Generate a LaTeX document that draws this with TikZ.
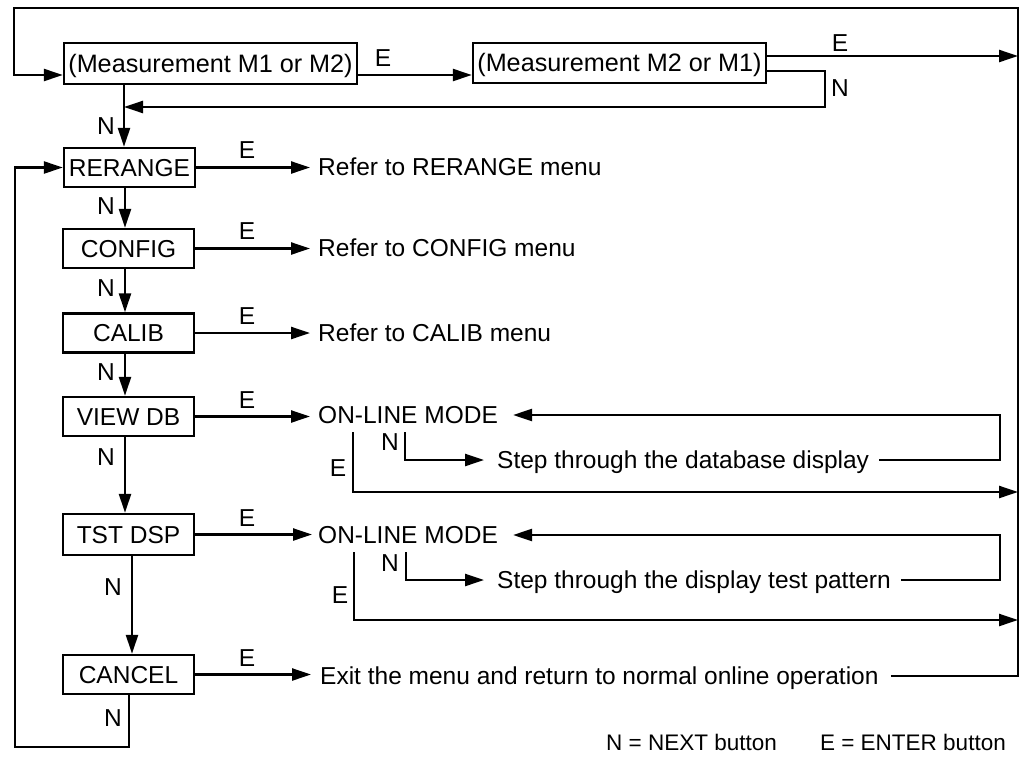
\documentclass[tikz,border=0pt]{standalone}
\usepackage{fontspec}
\setmainfont{Liberation Sans}
\usetikzlibrary{arrows.meta,calc}
\begin{document}
\begin{tikzpicture}[x=1pt,y=-1pt,
  every node/.style={font=\fontsize{24.5}{29}\selectfont, text height=17.5pt, text depth=0pt},
  box/.style={draw, line width=2.4pt, inner sep=0pt},
  lbl/.style={inner sep=0pt, anchor=west},
  lab/.style={inner sep=0pt},
  legend/.style={inner sep=0pt, font=\fontsize{22.5}{27}\selectfont, text height=16pt},
  conn/.style={line width=2.4pt},
  arr/.style={conn, -{Triangle[length=19pt,width=12pt]}}]
\useasboundingbox (0,0) rectangle (1021,756);
% boxes
\node[box, minimum width=293pt, minimum height=41pt, font=\fontsize{25.2}{30}\selectfont] (m1) at (210.5,63.5) {(Measurement M1 or M2)};
\node[box, minimum width=293pt, minimum height=40pt, font=\fontsize{25.2}{30}\selectfont] (m2) at (619.5,63) {(Measurement M2 or M1)};
\node[box, minimum width=131pt, minimum height=39pt] (rer) at (129.5,167.5) {RERANGE};
\node[box, minimum width=131pt, minimum height=39pt] (cfg) at (128.5,248.5) {CONFIG};
\node[box, minimum width=131pt, minimum height=39pt] (cal) at (128.5,333) {CALIB};
\node[box, minimum width=131pt, minimum height=39pt] (vdb) at (128.5,416.5) {VIEW DB};
\node[box, minimum width=131pt, minimum height=41pt] (tst) at (128.5,534.5) {TST DSP};
\node[box, minimum width=131pt, minimum height=39pt] (can) at (128.5,674.5) {CANCEL};
% texts
\node[lbl] (trer) at (318,167) {Refer to RERANGE menu};
\node[lbl] (tcfg) at (318,248) {Refer to CONFIG menu};
\node[lbl] (tcal) at (318,333) {Refer to CALIB menu};
\node[lbl] (on1) at (318,415) {ON-LINE MODE};
\node[lbl] (st1) at (497,460) {Step through the database display};
\node[lbl] (on2) at (318,535) {ON-LINE MODE};
\node[lbl] (st2) at (497,580) {Step through the display test pattern};
\node[lbl] (ex) at (320,676) {Exit the menu and return to normal online operation};
\node[legend, anchor=west] (lgN) at (606,742) {N = NEXT button};
\node[legend, anchor=east] (lgE) at (1006,742) {E = ENTER button};
% labels
\node[lab] (le1) at (383,58) {E};
\node[lab] (le2) at (840,43) {E};
\node[lab] (ln2) at (840,88) {N};
\node[lab] (ln1) at (106,126) {N};
\node[lab] (ler) at (247,150) {E};
\node[lab] (lnr) at (106,206) {N};
\node[lab] (lec) at (247,231) {E};
\node[lab] (lnc) at (106,288) {N};
\node[lab] (lel) at (247,316) {E};
\node[lab] (lnl) at (106,372) {N};
\node[lab] (lev) at (247,400) {E};
\node[lab] (lnv) at (106,457) {N};
\node[lab] (let) at (247,518) {E};
\node[lab] (lnt) at (113,587) {N};
\node[lab] (lea) at (247,658) {E};
\node[lab] (lna) at (113,718) {N};
\node[lab] (lo1n) at (390,442) {N};
\node[lab] (lo1e) at (338,468) {E};
\node[lab] (lo2n) at (390,563) {N};
\node[lab] (lo2e) at (340,595) {E};
% coordinates
\coordinate (cA) at (124,75);
\coordinate (yE2) at (0,56);
\coordinate (yN2) at (0,71);
\coordinate (xN2) at (825,107);
\coordinate (R) at (1018,8);
\coordinate (L) at (14,8);
\coordinate (cB) at (125,0);
\coordinate (cC) at (132,0);
\coordinate (cD) at (129,747);
\coordinate (LL) at (15,747);
\coordinate (xR) at (1000,0);
\coordinate (v1E) at (353,432);
\coordinate (v1N) at (405,432);
\coordinate (y1E) at (0,492);
\coordinate (v2E) at (354,552);
\coordinate (v2N) at (406,552);
\coordinate (y2E) at (0,620);
% top part
\draw[arr] ($(ex.east)+(12,0)$) -- (ex.east -| R) -- (R) -- (L) -- (L |- cA) -- (m1.west |- cA);
\draw[arr] (m1.east |- cA) -- (m2.west |- cA);
\draw[arr] (m2.east |- yE2) -- (R |- yE2);
\draw[arr] (m2.east |- yN2) -- (xN2 |- yN2) -- (xN2) -- (cA |- xN2);
\draw[arr] (m1.south -| cA) -- (rer.north -| cA);
% column
\draw[arr] (rer.south -| cB) -- (cfg.north -| cB);
\draw[arr] (cfg.south -| cB) -- (cal.north -| cB);
\draw[arr] (cal.south -| cB) -- (vdb.north -| cB);
\draw[arr] (vdb.south -| cB) -- (tst.north -| cB);
\draw[arr] (tst.south -| cC) -- (can.north -| cC);
\draw[arr] (can.south -| cD) -- (cD) -- (LL) -- (LL |- rer.west) -- (rer.west);
% E arrows
\draw[arr, shorten >=8pt] (rer.east) -- (rer.east -| trer.west);
\draw[arr, shorten >=8pt] (cfg.east) -- (cfg.east -| tcfg.west);
\draw[arr, shorten >=8pt] (cal.east) -- (cal.east -| tcal.west);
\draw[arr, shorten >=8pt] (vdb.east) -- (vdb.east -| on1.west);
\draw[arr, shorten >=6pt] (tst.east) -- (tst.east -| on2.west);
\draw[arr, shorten >=9pt] (can.east) -- (can.east -| ex.west);
% on-line group 1
\draw[arr] (v1E) -- (v1E |- y1E) -- (R |- y1E);
\draw[arr, shorten >=13pt] (v1N) -- (v1N |- st1.west) -- (st1.west);
\draw[arr] ($(st1.east)+(10,0)$) -- (st1.east -| xR) -- (on1.east -| xR) -- ($(on1.east)+(15,0)$);
% on-line group 2
\draw[arr] (v2E) -- (v2E |- y2E) -- (R |- y2E);
\draw[arr, shorten >=13pt] (v2N) -- (v2N |- st2.west) -- (st2.west);
\draw[arr] ($(st2.east)+(10,0)$) -- (st2.east -| xR) -- (on2.east -| xR) -- ($(on2.east)+(15,0)$);
\end{tikzpicture}
\end{document}
